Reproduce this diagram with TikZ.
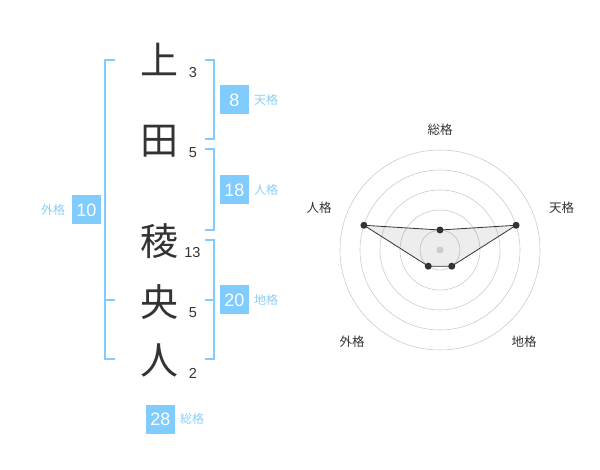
\documentclass[tikz,border=0pt]{standalone}
\usepackage{fontspec}
\setmainfont{Liberation Sans}
\newfontfamily\jp{Noto Sans CJK JP}
\definecolor{kaku}{HTML}{80CCFF}
\definecolor{kakutext}{HTML}{8CCEF5}
\definecolor{ink}{HTML}{333333}
\definecolor{ring}{HTML}{CCCCCC}

\begin{document}
\begin{tikzpicture}[x=1pt,y=-1pt,
    kanji/.style={font=\jp\fontsize{38}{38}\selectfont, text=ink, inner sep=0pt},
    strokes/.style={font=\fontsize{14.5}{14.5}\selectfont, text=ink, inner sep=0pt},
    score/.style={fill=kaku, text=white, font=\fontsize{18}{18}\selectfont, minimum width=29pt, minimum height=29pt, inner sep=0pt},
    kakuname/.style={font=\jp\fontsize{12}{12}\selectfont, text=kakutext, inner sep=0pt},
    bracket/.style={draw=kaku, line width=1.5pt},
    axisname/.style={font=\jp\fontsize{12.5}{12.5}\selectfont, text=ink, inner sep=0pt},
    dot/.style={circle, fill=ink, inner sep=0pt, minimum size=7pt}]
    \useasboundingbox (0,0) rectangle (600,470);

    % name
    \node[kanji] (ue) at (159.5,59) {上};
    \node[kanji] (ta) at (159.5,141) {田};
    \node[kanji] (ryo) at (159.5,241) {稜};
    \node[kanji] (o) at (159.5,302) {央};
    \node[kanji] (hito) at (159.5,360) {人};
    \node[strokes] (sue) at (193,72.5) {3};
    \node[strokes] (sta) at (193,152.5) {5};
    \node[strokes] (sryo) at (192.5,252.5) {13};
    \node[strokes] (so) at (193,312.5) {5};
    \node[strokes] (shito) at (193,373) {2};

    % brackets
    \draw[bracket] (205,60) -- (214,60) -- (214,139) -- (205,139);
    \draw[bracket] (205,149) -- (214,149) -- (214,230) -- (205,230);
    \draw[bracket] (205,240) -- (214,240) -- (214,359) -- (205,359);
    \draw[bracket] (205,300) -- (214,300);
    \draw[bracket] (115,60) -- (105,60) -- (105,359) -- (115,359);
    \draw[bracket] (105,300) -- (115,300);

    % scores
    \node[score] (ten) at (234.5,100) {8};
    \node[kakuname] (tenname) at (266,100) {天格};
    \node[score] (jin) at (234.5,190) {18};
    \node[kakuname] (jinname) at (266,190) {人格};
    \node[score] (chi) at (234.5,300) {20};
    \node[kakuname] (chiname) at (266,300) {地格};
    \node[score] (gai) at (86.5,210) {10};
    \node[kakuname] (gainame) at (53,210) {外格};
    \node[score] (sou) at (160.5,419) {28};
    \node[kakuname] (souname) at (192,419) {総格};

    % radar
    \node[axisname] (asou) at (440,130) {総格};
    \node[axisname] (aten) at (561.5,208) {天格};
    \node[axisname] (achi) at (524,342) {地格};
    \node[axisname] (agai) at (352,342) {外格};
    \node[axisname] (ajin) at (319,208) {人格};
    \begin{scope}[shift={(440,250)}, y=1pt]
        \foreach \r in {20,40,60,80,100}
            \draw[ring, line width=0.6pt] (0,0) circle (\r);
        \coordinate (psou) at (90:20);
        \coordinate (pten) at (18:80);
        \coordinate (pchi) at (-54:20);
        \coordinate (pgai) at (234:20);
        \coordinate (pjin) at (162:80);
        \fill[black, fill opacity=0.07] (psou) -- (pten) -- (pchi) -- (pgai) -- (pjin) -- cycle;
        \fill[ring] (0,0) circle (3.5);
        \draw[ink, line width=0.8pt] (psou) -- (pten) -- (pchi) -- (pgai) -- (pjin) -- cycle;
        \node[dot] (dsou) at (psou) {};
        \node[dot] (dten) at (pten) {};
        \node[dot] (dchi) at (pchi) {};
        \node[dot] (dgai) at (pgai) {};
        \node[dot] (djin) at (pjin) {};
    \end{scope}
\end{tikzpicture}
\end{document}
